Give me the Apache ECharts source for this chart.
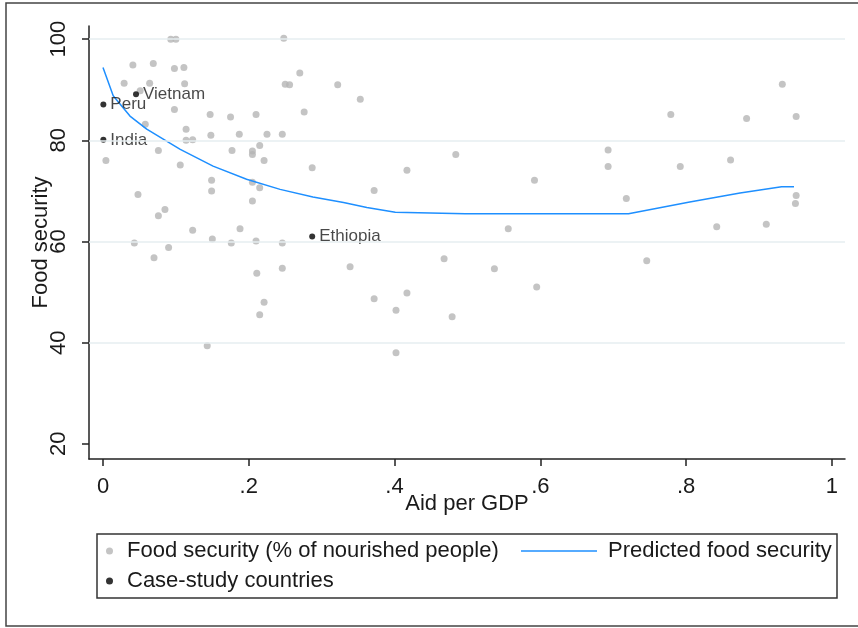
<!DOCTYPE html>
<html>
<head>
<meta charset="utf-8">
<script src="https://cdn.jsdelivr.net/npm/echarts@6/dist/echarts.min.js"></script>
<style>html,body{margin:0;padding:0;background:#fff;}#c{width:858px;height:628px;}</style>
</head>
<body>
<div id="c"></div>
<script>
const xTickVals = [0, 0.2, 0.4, 0.6, 0.8, 1];
const xTickLabels = ['0', '.2', '.4', '.6', '.8', '1'];
const yTickVals = [20, 40, 60, 80, 100];
const yTickLabels = ['20', '40', '60', '80', '100'];
const yGridVals = [40, 60, 80, 100];

const foodX = [0.093,0.100,0.248,0.041,0.069,0.098,0.111,0.270,0.029,0.064,0.112,0.250,0.256,0.322,0.051,0.098,0.147,0.175,0.210,0.276,0.058,0.114,0.148,0.187,0.225,0.246,0.114,0.123,0.215,0.076,0.177,0.205,0.205,0.221,0.004,0.106,0.287,0.149,0.149,0.205,0.215,0.048,0.205,0.085,0.076,0.123,0.188,0.043,0.150,0.176,0.210,0.246,0.090,0.070,0.211,0.246,0.221,0.215,0.143,0.353,0.484,0.417,0.372,0.592,0.693,0.693,0.556,0.339,0.468,0.537,0.595,0.417,0.372,0.402,0.479,0.402,0.932,0.779,0.883,0.951,0.792,0.861,0.718,0.951,0.950,0.842,0.910,0.746];
const foodY = [100.0,100.0,100.2,94.9,95.2,94.2,94.4,93.3,91.3,91.3,91.2,91.1,91.0,91.0,89.8,86.1,85.1,84.6,85.1,85.6,83.2,82.2,81.0,81.2,81.2,81.2,80.0,80.1,79.0,78.0,78.0,77.9,77.2,76.0,76.0,75.1,74.6,72.1,70.0,71.7,70.6,69.3,68.0,66.3,65.1,62.2,62.5,59.7,60.5,59.7,60.1,59.7,58.8,56.8,53.7,54.7,48.0,45.5,39.4,88.1,77.2,74.1,70.1,72.1,78.1,74.8,62.5,55.0,56.6,54.6,51.0,49.8,48.7,46.4,45.1,38.0,91.1,85.1,84.3,84.7,74.8,76.1,68.5,69.1,67.5,62.9,63.4,56.2];

const predX = [0, 0.014, 0.037, 0.06, 0.106, 0.151, 0.197, 0.243, 0.288, 0.33, 0.362, 0.401, 0.497, 0.6, 0.721, 0.805, 0.874, 0.931, 0.948];
const predY = [94.4, 88.8, 84.8, 82.2, 78.2, 74.9, 72.3, 70.3, 68.8, 67.7, 66.7, 65.8, 65.5, 65.5, 65.5, 67.8, 69.6, 70.8, 70.8];

const caseNames = ['Vietnam', 'Peru', 'India', 'Ethiopia'];
const caseX = [0.0453, 0.0005, 0.0005, 0.287];
const caseY = [89.1, 87.1, 80.1, 61.0];

const FONT = 'Liberation Sans, Arial, sans-serif';
const TXT = '#1a1a1a';
const FS = 22;

function lab(vals, labels) {
  return function (v) {
    for (let i = 0; i < vals.length; i++) if (Math.abs(vals[i] - v) < 1e-9) return labels[i];
    return '';
  };
}

const chart = echarts.init(document.getElementById('c'), null, {renderer: 'canvas'});
chart.setOption({
  animation: false,
  backgroundColor: '#fff',
  textStyle: {fontFamily: FONT},
  grid: {left: 89, top: 26, right: 13, bottom: 169, containLabel: false},
  xAxis: {
    type: 'value', min: -0.0192, max: 1.018,
    name: 'Aid per GDP', nameLocation: 'middle', nameGap: 34, nameMoveOverlap: false,
    nameTextStyle: {fontSize: FS, color: TXT, fontFamily: FONT},
    axisLine: {onZero: false, lineStyle: {color: '#222', width: 1.5}},
    axisTick: {customValues: xTickVals, length: 7, lineStyle: {color: '#222', width: 1.5}},
    axisLabel: {customValues: xTickVals, formatter: lab(xTickVals, xTickLabels), margin: 17, fontSize: FS, color: TXT, fontFamily: FONT},
    splitLine: {show: false}
  },
  yAxis: {
    type: 'value', min: 17.0, max: 102.6,
    name: 'Food security', nameLocation: 'middle', nameGap: 37, nameRotate: 90, nameMoveOverlap: false,
    nameTextStyle: {fontSize: FS, color: TXT, fontFamily: FONT},
    axisLine: {onZero: false, lineStyle: {color: '#222', width: 1.5}},
    axisTick: {customValues: yTickVals, length: 7, lineStyle: {color: '#222', width: 1.5}},
    axisLabel: {customValues: yTickVals, formatter: lab(yTickVals, yTickLabels), rotate: 90, margin: 19, fontSize: FS, color: TXT, fontFamily: FONT},
    splitLine: {show: false}
  },
  legend: [
    {data: ['Food security (% of nourished people)'], left: 106, top: 540, padding: 0, icon: 'circle', itemWidth: 7, itemHeight: 7, selectedMode: false, z: 5,
     textStyle: {fontSize: FS, color: TXT, fontFamily: FONT, padding: [0, 0, 0, 9]}},
    {data: [{name: 'Predicted food security', icon: 'path://M0,0L76,0L76,1.5L0,1.5Z'}], left: 521, top: 540, padding: 0, itemWidth: 76, itemHeight: 1.5, selectedMode: false, z: 5,
     itemStyle: {color: '#1e8fff'},
     textStyle: {fontSize: FS, color: TXT, fontFamily: FONT, padding: [0, 0, 0, 6]}},
    {data: ['Case-study countries'], left: 106, top: 570, padding: 0, icon: 'circle', itemWidth: 7, itemHeight: 7, selectedMode: false, z: 5,
     textStyle: {fontSize: FS, color: TXT, fontFamily: FONT, padding: [0, 0, 0, 9]}}
  ],
  graphic: [
    {type: 'rect', z: 1, shape: {x: 6, y: 3, width: 900, height: 623}, style: {fill: 'none', stroke: '#444', lineWidth: 1.5}},
    {type: 'rect', z: 1, shape: {x: 97, y: 534, width: 740, height: 64}, style: {fill: 'none', stroke: '#333', lineWidth: 1.5}}
  ],
  series: [
    {type: 'scatter', name: 'grid', data: [], z: 1, silent: true,
     markLine: {silent: true, symbol: 'none', label: {show: false}, animation: false,
       lineStyle: {color: '#e6eef1', width: 1.5, type: 'solid'},
       data: yGridVals.map(v => ({yAxis: v}))}},
    {type: 'scatter', name: 'Food security (% of nourished people)', z: 2,
     data: foodX.map((x, i) => [x, foodY[i]]),
     symbol: 'circle', symbolSize: 7, itemStyle: {color: '#b5b5b5'}},
    {type: 'line', name: 'Predicted food security', z: 3,
     data: predX.map((x, i) => [x, predY[i]]),
     symbol: 'none', showSymbol: false, smooth: false,
     lineStyle: {color: '#1e8fff', width: 1.5}, itemStyle: {color: '#1e8fff'}},
    {type: 'scatter', name: 'Case-study countries', z: 4,
     data: caseX.map((x, i) => ({name: caseNames[i], value: [x, caseY[i]]})),
     symbol: 'circle', symbolSize: 6, itemStyle: {color: '#000'},
     label: {show: true, position: 'right', distance: 4, formatter: '{b}', fontSize: 17, color: TXT, fontFamily: FONT}}
  ]
});
</script>
</body>
</html>
